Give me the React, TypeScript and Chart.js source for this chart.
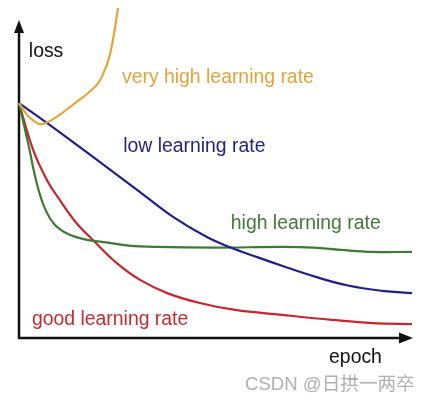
import React, { useEffect, useRef } from "react";
import { Chart, registerables } from "chart.js";

Chart.register(...registerables);

// epoch / loss samples (epoch 0..100, loss 0..100)
const veryHighEpoch = [0, 2.3, 3.8, 5.3, 6.9, 9.2, 13, 19.8, 21.6, 22.9, 23.9, 25.2];
const veryHighLoss = [71.2, 67.3, 65.8, 64.8, 65.2, 66.7, 70, 76.7, 80.6, 84.8, 90.3, 100];

const lowEpoch = [0, 7.1, 20.6, 30.8, 39.2, 47.8, 53.7, 60.6, 66.9, 75.3, 83.7, 92.4, 100];
const lowLoss = [71.2, 65.2, 53.3, 44.2, 36.7, 30.6, 27.5, 24.5, 21.9, 18.6, 15.9, 14.3, 13.6];

const highEpoch = [0, 2.5, 4.5, 6.5, 9, 12.5, 17, 22, 28, 35, 50, 67, 75, 82, 90, 100];
const highLoss = [71.2, 58, 47, 39.5, 34.5, 31.5, 29.8, 29, 28, 27.6, 27.4, 27.6, 27.4, 26.7, 26.1, 26.1];

const goodEpoch = [0, 3.6, 7.1, 10.4, 14.5, 18.8, 24.9, 30.8, 37.7, 46, 55, 66.9, 79.6, 90, 100];
const goodLoss = [71.2, 57, 47.9, 41.8, 35, 29.7, 22.7, 17.6, 13.6, 10.6, 8.5, 7, 5.5, 4.5, 4.2];

const seriesNames = ["very high learning rate", "low learning rate", "high learning rate", "good learning rate"];
const seriesColors = ["#e5a53a", "#1f1f8e", "#3f7a35", "#c8262c"];
const textColors = ["#e2a43e", "#22228c", "#43793a", "#c42b30"];
const axisXLabel = "epoch";
const axisYLabel = "loss";
const watermark = "CSDN @日拱一两卒";

const toPoints = (xs: number[], ys: number[]) => xs.map((x, i) => ({ x, y: ys[i] }));

// label anchors in data units (left, middle)
const labelAnchors = [
  { x: 26.2, y: 78.8 },
  { x: 26.5, y: 57.9 },
  { x: 53.9, y: 34.5 },
  { x: 3.3, y: 5.5 },
];

const decorPlugin = {
  id: "decor",
  beforeDatasetsDraw(chart: any) {
    const { ctx, chartArea } = chart;
    const x0 = chartArea.left;
    const y0 = chartArea.bottom;
    ctx.save();
    ctx.strokeStyle = "#111";
    ctx.fillStyle = "#111";
    ctx.lineWidth = 2.5;
    // y axis
    ctx.beginPath();
    ctx.moveTo(x0, y0 + 1);
    ctx.lineTo(x0, 30);
    ctx.stroke();
    ctx.beginPath();
    ctx.moveTo(x0, 20);
    ctx.lineTo(x0 - 5, 33);
    ctx.lineTo(x0 + 5, 33);
    ctx.closePath();
    ctx.fill();
    // x axis
    ctx.beginPath();
    ctx.moveTo(x0 - 1, y0);
    ctx.lineTo(402, y0);
    ctx.stroke();
    ctx.beginPath();
    ctx.moveTo(413, y0);
    ctx.lineTo(399, y0 - 5.5);
    ctx.lineTo(399, y0 + 5.5);
    ctx.closePath();
    ctx.fill();
    ctx.restore();
  },
  afterDraw(chart: any) {
    const { ctx, scales } = chart;
    const sx = scales.x;
    const sy = scales.y;
    ctx.save();
    ctx.textBaseline = "middle";
    ctx.textAlign = "left";
    ctx.font = "19.4px 'Liberation Sans', Arial, sans-serif";
    seriesNames.forEach((name, i) => {
      ctx.fillStyle = textColors[i];
      ctx.fillText(name, sx.getPixelForValue(labelAnchors[i].x), sy.getPixelForValue(labelAnchors[i].y));
    });
    ctx.fillStyle = "#111";
    ctx.fillText(axisYLabel, sx.getPixelForValue(2.5), sy.getPixelForValue(86.7));
    ctx.fillText(axisXLabel, sx.getPixelForValue(78.9), sy.getPixelForValue(-6.1));
    ctx.fillStyle = "#b0b0b0";
    ctx.font = "18.6px 'Liberation Sans', 'Noto Sans CJK SC', sans-serif";
    ctx.fillText(watermark, 245, 385);
    ctx.restore();
  },
};

export default function App() {
  const ref = useRef<HTMLCanvasElement | null>(null);
  useEffect(() => {
    if (!ref.current) return;
    const seriesData = [
      toPoints(veryHighEpoch, veryHighLoss),
      toPoints(lowEpoch, lowLoss),
      toPoints(highEpoch, highLoss),
      toPoints(goodEpoch, goodLoss),
    ];
    const chart = new Chart(ref.current, {
      type: "line",
      data: {
        datasets: seriesData.map((d, i) => ({
          label: seriesNames[i],
          data: d,
          borderColor: seriesColors[i],
          borderWidth: 2.2,
          pointRadius: 0,
          tension: 0.4,
          fill: false,
          clip: false as any,
        })),
      },
      options: {
        responsive: false,
        animation: false,
        layout: { padding: { left: 19, right: 19, top: 8, bottom: 67 } },
        plugins: { legend: { display: false }, tooltip: { enabled: false } },
        scales: {
          x: { type: "linear", min: 0, max: 100, display: false },
          y: { type: "linear", min: 0, max: 100, display: false },
        },
      },
      plugins: [decorPlugin],
    });
    return () => chart.destroy();
  }, []);
  return (
    <div style={{ position: "absolute", left: 0, top: 0, width: 431, height: 405, background: "#fff" }}>
      <canvas ref={ref} width={431} height={405} />
    </div>
  );
}
